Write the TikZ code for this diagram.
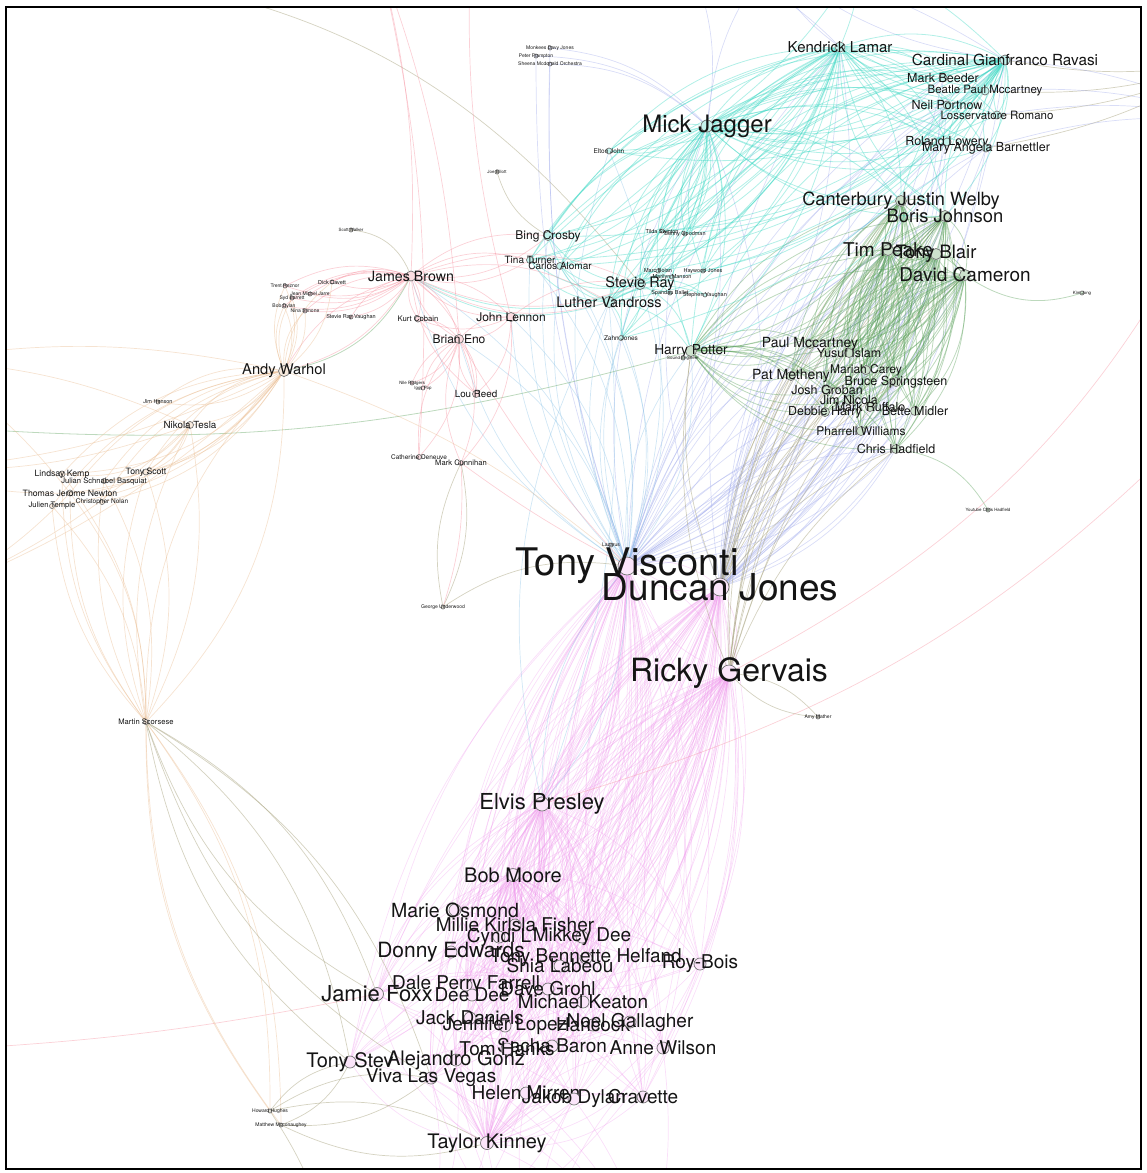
\documentclass[tikz,border=0pt]{standalone}
\usepackage{fontspec}
\setmainfont{TeX Gyre Heros}
\usetikzlibrary{backgrounds}

\definecolor{pinkC}{RGB}{238,150,235}
\definecolor{lavC}{RGB}{160,170,235}
\definecolor{greenC}{RGB}{90,160,90}
\definecolor{cyanC}{RGB}{60,215,195}
\definecolor{rosC}{RGB}{245,140,155}
\definecolor{peachC}{RGB}{232,185,140}
\definecolor{oliveC}{RGB}{170,165,130}
\definecolor{skyC}{RGB}{140,195,230}

\begin{document}
\begin{tikzpicture}[x=1pt, y=-1pt,
  person/.style={circle, draw=black!55, line width=0.7pt, inner sep=0pt, minimum size=#1},
  person/.default=8,
  lbl/.style={font=\fontsize{#1}{#1}\selectfont, text=black!92, inner sep=0pt},
  pinkline/.style={draw=pinkC, draw opacity=0.3, line width=0.7pt},
  lavline/.style={draw=lavC, draw opacity=0.4, line width=0.7pt},
  greenline/.style={draw=greenC, draw opacity=0.4, line width=0.8pt},
  cyanline/.style={draw=cyanC, draw opacity=0.4, line width=0.8pt},
  skyline/.style={draw=skyC, draw opacity=0.4, line width=0.7pt},
  rosline/.style={draw=rosC, draw opacity=0.4, line width=0.7pt},
  peachline/.style={draw=peachC, draw opacity=0.4, line width=0.7pt},
  oliveline/.style={draw=oliveC, draw opacity=0.5, line width=0.7pt}
]
\useasboundingbox (0,0) rectangle (1147,1173);

% hubs in the middle
\node[person=18, fill=pinkC!25, label={[lbl=38]center:Tony Visconti}] (visconti) at (627,566) {};
\node[person=18, fill=pinkC!25, label={[lbl=37]center:Duncan Jones}] (duncan) at (720,587) {};
\node[person=16, fill=pinkC!25, label={[lbl=32]center:Ricky Gervais}] (gervais) at (729,673) {};

% lower cluster
\node[person=14, fill=pinkC!25, label={[lbl=22]center:Elvis Presley}] (elvis) at (542,804) {};
\node[person=13, fill=pinkC!25, label={[lbl=20]center:Bob Moore}] (moore) at (513,875) {};
\node[person=12, fill=pinkC!25, label={[lbl=19.5]center:Marie Osmond}] (osmond) at (455,910) {};
\node[person=12, fill=pinkC!25, label={[lbl=19]center:Millie Kirlsla Fisher}] (fisher) at (515,925) {};
\node[person=12, fill=pinkC!25, label={[lbl=19]center:Cyndi L}] (cyndi) at (499,937) {};
\node[person=12, fill=pinkC!25, label={[lbl=19]center:Mikkey Dee}] (mikkey) at (582,937) {};
\node[person=12, fill=pinkC!25, label={[lbl=21]center:Donny Edwards}] (donny) at (451,952) {};
\node[person=12, fill=pinkC!25, label={[lbl=19]center:Tony Bennette Helfand}] (bennett) at (586,958) {};
\node[person=12, fill=pinkC!25, label={[lbl=19]center:Shia Labeou}] (shia) at (560,966) {};
\node[person=12, fill=pinkC!25, label={[lbl=19]center:Roy-Bois}] (roybois) at (700,964) {};
\node[person=13, fill=pinkC!25, label={[lbl=22]center:Jamie Foxx}] (foxx) at (377,994) {};
\node[person=12, fill=pinkC!25, label={[lbl=19]center:Dale Perry Farrell}] (perry) at (466,985) {};
\node[person=12, fill=pinkC!25, label={[lbl=19]center:Dee Dee}] (deedee) at (472,995) {};
\node[person=12, fill=pinkC!25, label={[lbl=19]center:Dave Grohl}] (grohl) at (548,989) {};
\node[person=12, fill=pinkC!25, label={[lbl=19]center:Michael Keaton}] (keaton) at (583,1002) {};
\node[person=12, fill=pinkC!25, label={[lbl=19]center:Jack Daniels}] (daniels) at (470,1018) {};
\node[person=12, fill=pinkC!25, label={[lbl=19]center:Jennifer Lopez}] (lopez) at (505,1026) {};
\node[person=12, fill=pinkC!25, label={[lbl=19]center:Hancock}] (hancock) at (593,1025) {};
\node[person=12, fill=pinkC!25, label={[lbl=19]center:Noel Gallagher}] (gallagher) at (630,1022) {};
\node[person=12, fill=pinkC!25, label={[lbl=19]center:Sacha Baron}] (sacha) at (552,1046) {};
\node[person=12, fill=pinkC!25, label={[lbl=19]center:Tom Hanks}] (hanks) at (507,1049) {};
\node[person=12, fill=pinkC!25, label={[lbl=19]center:Anne Wilson}] (wilson) at (663,1048) {};
\node[person=12, fill=pinkC!25, label={[lbl=20]center:Tony Stev}] (stev) at (350,1062) {};
\node[person=12, fill=pinkC!25, label={[lbl=20]center:Alejandro Gonz}] (gonz) at (456,1060) {};
\node[person=12, fill=pinkC!25, label={[lbl=19]center:Viva Las Vegas}] (vegas) at (431,1078) {};
\node[person=12, fill=pinkC!25, label={[lbl=19]center:Helen Mirren}] (mirren) at (526,1093) {};
\node[person=12, fill=pinkC!25, label={[lbl=19]center:Jakob Dylan}] (dylan) at (574,1099) {};
\node[person=12, fill=pinkC!25, label={[lbl=19]center:Cravette}] (cravette) at (643,1097) {};
\node[person=13, fill=pinkC!25, label={[lbl=20]center:Taylor Kinney}] (kinney) at (487,1143) {};

% upper right
\node[person=12, fill=cyanC!30, label={[lbl=24]center:Mick Jagger}] (jagger) at (707,126) {};
\node[person=10, fill=cyanC!30, label={[lbl=15]center:Kendrick Lamar}] (kendrick) at (840,47) {};
\node[person=10, fill=cyanC!30, label={[lbl=15.3]center:Cardinal Gianfranco Ravasi}] (cardinal) at (1005,60) {};
\node[person=8, fill=cyanC!30, label={[lbl=12.5]center:Mark Beeder}] (beeder) at (943,78) {};
\node[person=8, fill=cyanC!30, label={[lbl=11.5]center:Beatle Paul Mccartney}] (beatle) at (985,91) {};
\node[person=8, fill=cyanC!30, label={[lbl=12.5]center:Neil Portnow}] (portnow) at (947,105) {};
\node[person=8, fill=cyanC!30, label={[lbl=11.5]center:Losservatore Romano}] (losserv) at (997,115) {};
\node[person=8, fill=cyanC!30, label={[lbl=12.5]center:Roland Lowery}] (lowery) at (947,142) {};
\node[person=8, fill=cyanC!30, label={[lbl=12.5]center:Mary Angela Barnettler}] (barnettler) at (986,148) {};
\node[person=11, fill=greenC!30, label={[lbl=18.2]center:Canterbury Justin Welby}] (welby) at (901,201) {};
\node[person=11, fill=greenC!30, label={[lbl=18.4]center:Boris Johnson}] (boris) at (945,216) {};
\node[person=11, fill=greenC!30, label={[lbl=19]center:Tim Peake}] (peake) at (888,250) {};
\node[person=11, fill=greenC!30, label={[lbl=18.4]center:Tony Blair}] (blair) at (936,254) {};
\node[person=11, fill=greenC!30, label={[lbl=19]center:David Cameron}] (cameron) at (965,275) {};
\node[person=4, fill=greenC!30, label={[lbl=4.4]center:Kim Jong}] (kim) at (1082,293) {};

% green cluster
\node[person=11, fill=greenC!30, label={[lbl=13.7]center:Harry Potter}] (harry) at (691,351) {};
\node[person=9, fill=greenC!30, label={[lbl=14]center:Paul Mccartney}] (paulmc) at (810,344) {};
\node[person=9, fill=greenC!30, label={[lbl=12.5]center:Yusuf Islam}] (yusuf) at (849,353) {};
\node[person=9, fill=greenC!30, label={[lbl=12]center:Mariah Carey}] (mariah) at (866,370) {};
\node[person=9, fill=greenC!30, label={[lbl=14]center:Pat Metheny}] (metheny) at (791,376) {};
\node[person=9, fill=greenC!30, label={[lbl=12.5]center:Bruce Springsteen}] (bruce) at (896,382) {};
\node[person=9, fill=greenC!30, label={[lbl=12.5]center:Josh Groban}] (groban) at (827,390) {};
\node[person=9, fill=greenC!30, label={[lbl=12.5]center:Jim Nicola}] (nicola) at (849,400) {};
\node[person=9, fill=greenC!30, label={[lbl=12.5]center:Mark Ruffalo}] (ruffalo) at (870,407) {};
\node[person=9, fill=greenC!30, label={[lbl=12.5]center:Bette Midler}] (midler) at (915,411) {};
\node[person=9, fill=greenC!30, label={[lbl=12.5]center:Debbie Harry}] (debbie) at (825,412) {};
\node[person=9, fill=greenC!30, label={[lbl=12]center:Pharrell Williams}] (pharrell) at (861,431) {};
\node[person=9, fill=greenC!30, label={[lbl=12.5]center:Chris Hadfield}] (hadfield) at (896,449) {};
\node[person=4, fill=greenC!30, label={[lbl=4.4]center:Youtube Chris Hadfield}] (youtube) at (988,510) {};

% upper middle
\node[person=4, fill=lavC!30, label={[lbl=5]center:Monkees Davy Jones}] (monkees) at (550,48) {};
\node[person=4, fill=lavC!30, label={[lbl=5]center:Peter Frampton}] (frampton) at (536,56) {};
\node[person=4, fill=lavC!30, label={[lbl=5]center:Sheena Mcdonald Orchestra}] (sheena) at (550,64) {};
\node[person=6, fill=cyanC!30, label={[lbl=6.5]center:Elton John}] (elton) at (609,151) {};
\node[person=4, fill=oliveC!30, label={[lbl=4.4]center:Joe Elliott}] (joe) at (497,172) {};
\node[person=9, fill=cyanC!30, label={[lbl=12]center:Bing Crosby}] (bing) at (548,236) {};
\node[person=7, fill=cyanC!30, label={[lbl=10]center:Tina Turner}] (tina) at (530,260) {};
\node[person=7, fill=cyanC!30, label={[lbl=10]center:Carlos Alomar}] (carlos) at (560,266) {};
\node[person=4, fill=cyanC!30, label={[lbl=5.5]center:Tilda Swinton}] (tilda) at (662,231) {};
\node[person=4, fill=cyanC!30, label={[lbl=5.5]center:Benny Goodman}] (goodman) at (685,234) {};
\node[person=4, fill=cyanC!30, label={[lbl=5.5]center:Marc Bolan}] (bolan) at (658,271) {};
\node[person=4, fill=cyanC!30, label={[lbl=5.5]center:Haywood Jones}] (haywood) at (703,271) {};
\node[person=4, fill=cyanC!30, label={[lbl=5.5]center:Marilyn Manson}] (manson) at (672,277) {};
\node[person=4, fill=cyanC!30, label={[lbl=5.5]center:Spandau Ballet}] (spandau) at (670,293) {};
\node[person=4, fill=cyanC!30, label={[lbl=5.5]center:Stephen Vaughan}] (vaughan) at (705,295) {};
\node[person=11, fill=cyanC!30, label={[lbl=14.5]center:Stevie Ray}] (stevie) at (640,284) {};
\node[person=11, fill=cyanC!30, label={[lbl=14.5]center:Luther Vandross}] (luther) at (609,302) {};
\node[person=5, fill=cyanC!30, label={[lbl=6.5]center:Zahn Jones}] (zahn) at (621,338) {};
\node[person=4, fill=greenC!30, label={[lbl=4.4]center:Sound Engineer}] (sound) at (683,358) {};

% upper left
\node[person=4, fill=oliveC!30, label={[lbl=4.4]center:Scott Walker}] (scott) at (351,230) {};
\node[person=10, fill=rosC!30, label={[lbl=14.2]center:James Brown}] (jamesbrown) at (411,276) {};
\node[person=4, fill=rosC!30, label={[lbl=5.5]center:Dick Cavett}] (dick) at (332,282) {};
\node[person=4, fill=rosC!30, label={[lbl=5]center:Trent Reznor}] (trent) at (285,286) {};
\node[person=4, fill=rosC!30, label={[lbl=5]center:Jean Michel Jarre}] (jmm) at (310,294) {};
\node[person=4, fill=rosC!30, label={[lbl=5]center:Syd Barrett}] (syd) at (292,298) {};
\node[person=4, fill=rosC!30, label={[lbl=5]center:Bob Dylan}] (bobdylan) at (284,306) {};
\node[person=4, fill=rosC!30, label={[lbl=5]center:Nina Simone}] (nina) at (305,311) {};
\node[person=4, fill=rosC!30, label={[lbl=5.5]center:Stevie Ray Vaughan}] (srv) at (351,317) {};
\node[person=6, fill=rosC!30, label={[lbl=7.7]center:Kurt Cobain}] (kurt) at (418,319) {};
\node[person=9, fill=rosC!30, label={[lbl=12]center:John Lennon}] (lennon) at (511,317) {};
\node[person=9, fill=rosC!30, label={[lbl=12]center:Brian Eno}] (eno) at (459,339) {};
\node[person=11, fill=peachC!30, label={[lbl=14.7]center:Andy Warhol}] (warhol) at (284,371) {};
\node[person=4, fill=rosC!30, label={[lbl=4.4]center:Nile Rodgers}] (nile) at (412,383) {};
\node[person=4, fill=rosC!30, label={[lbl=4.4]center:Iggy Pop}] (iggy) at (423,388) {};
\node[person=7, fill=rosC!30, label={[lbl=9.8]center:Lou Reed}] (loureed) at (476,394) {};
\node[person=7, fill=peachC!30, label={[lbl=9.8]center:Nikola Tesla}] (tesla) at (190,425) {};
\node[person=4, fill=peachC!30, label={[lbl=5.5]center:Jim Henson}] (jimhenson) at (158,402) {};
\node[person=6, fill=peachC!30, label={[lbl=8.7]center:Lindsay Kemp}] (lindsay) at (62,474) {};
\node[person=6, fill=peachC!30, label={[lbl=8.7]center:Tony Scott}] (tonyscott) at (146,472) {};
\node[person=5, fill=peachC!30, label={[lbl=7.6]center:Julian Schnabel Basquiat}] (julian) at (104,481) {};
\node[person=6, fill=peachC!30, label={[lbl=8.7]center:Thomas Jerome Newton}] (thomas) at (70,493) {};
\node[person=5, fill=peachC!30, label={[lbl=7.6]center:Julien Temple}] (julien) at (52,506) {};
\node[person=5, fill=peachC!30, label={[lbl=6.5]center:Christopher Nolan}] (nolan) at (102,502) {};
\node[person=5, fill=rosC!30, label={[lbl=6.5]center:Catherine Deneuve}] (catherine) at (419,457) {};
\node[person=5, fill=rosC!30, label={[lbl=7.6]center:Mark Cunnihan}] (markc) at (461,463) {};
\node[person=4, fill=oliveC!30, label={[lbl=5]center:George Underwood}] (george) at (443,607) {};
\node[person=4, fill=skyC!30, label={[lbl=5]center:Lazarus}] (lazarus) at (611,545) {};
\node[person=4, fill=oliveC!30, label={[lbl=5]center:Amy Mather}] (amy) at (818,717) {};
\node[person=5, fill=peachC!30, label={[lbl=7.6]center:Martin Scorsese}] (scorsese) at (146,722) {};
\node[person=4, fill=oliveC!30, label={[lbl=5]center:Howard Hughes}] (howard) at (270,1111) {};
\node[person=4, fill=oliveC!30, label={[lbl=5]center:Matthew Mcconaughey}] (matthew) at (281,1125) {};

% ends of edges that leave the frame
\coordinate (offA) at (90,-30);
\coordinate (offB) at (-80,425);
\coordinate (offC) at (1230,160);
\coordinate (offD) at (1230,390);
\coordinate (offE) at (-60,1050);
\coordinate (topA) at (380,-40);
\coordinate (topB) at (470,-40);
\coordinate (topC) at (690,-40);
\coordinate (topD) at (770,-40);
\coordinate (topE) at (860,-40);
\coordinate (leftA) at (-80,360);
\coordinate (leftB) at (-80,470);
\coordinate (leftC) at (-80,600);
\coordinate (botA) at (420,1260);
\coordinate (botB) at (540,1260);
\coordinate (botC) at (650,1260);
\coordinate (botD) at (330,1250);
\coordinate (rightA) at (1230,60);
\coordinate (rightB) at (1230,120);

\begin{pgfonlayer}{background}
\begin{scope}
\clip (6,7) rectangle (1141,1169);

% pink edges of the lower cluster
\foreach \a in {visconti,duncan,gervais}
  \foreach \b in {elvis,moore,osmond,fisher,cyndi,mikkey,donny,bennett,shia,roybois,foxx,perry,deedee,grohl,keaton,daniels,lopez,hancock,gallagher,sacha,hanks,wilson,stev,gonz,vegas,mirren,dylan,cravette,kinney}
  {\draw[pinkline] (\a) to[bend left=18] (\b);
   \draw[pinkline] (\b) to[bend left=18] (\a);}
\foreach \a in {elvis,moore,kinney}
  \foreach \b in {osmond,fisher,cyndi,mikkey,donny,bennett,shia,roybois,foxx,perry,deedee,grohl,keaton,daniels,lopez,hancock,gallagher,sacha,hanks,wilson,stev,gonz,vegas,mirren,dylan,cravette}
  {\draw[pinkline] (\a) to[bend left=24] (\b);
   \draw[pinkline] (\b) to[bend left=24] (\a);}
\foreach \a/\b in {osmond/wilson,donny/roybois,foxx/gallagher,foxx/keaton,fisher/dylan,mikkey/vegas,bennett/stev,grohl/gonz,daniels/cravette,hanks/roybois,visconti/duncan,duncan/gervais,visconti/gervais}
  {\draw[pinkline] (\a) to[bend left=24] (\b);
   \draw[pinkline] (\b) to[bend left=24] (\a);}
\foreach \a in {kinney,dylan,vegas,mirren,gonz,wilson}
  {\draw[pinkline] (\a) to[bend left=15] (botA);
   \draw[pinkline] (botB) to[bend left=15] (\a);
   \draw[pinkline] (\a) to[bend left=10] (botC);}

% lavender edges towards the top right
\foreach \a in {visconti,duncan}
  \foreach \b in {jagger,kendrick,cardinal,beeder,portnow,lowery,barnettler,welby,boris,peake,blair,cameron,paulmc,bruce,midler,hadfield,pharrell,mariah}
  {\draw[lavline] (\a) to[bend left=20] (\b);
   \draw[lavline] (\b) to[bend left=20] (\a);}
\foreach \b in {jagger,kendrick,cardinal}
  {\draw[lavline] (topC) to[bend left=15] (\b);
   \draw[lavline] (\b) to[bend left=15] (topD);
   \draw[cyanline] (topE) to[bend left=10] (\b);}
\foreach \b in {monkees,frampton,sheena}
  {\draw[lavline] (\b) to[bend left=20] (jagger);
   \draw[lavline] (visconti) to[bend left=10] (\b);}

% blue edges from the hubs to the upper middle
\foreach \a in {visconti}
  \foreach \b in {luther,stevie,bing,eno,lennon,jamesbrown,elvis,tina,carlos,zahn,lazarus,elton,harry}
  {\draw[skyline] (\a) to[bend left=20] (\b);
   \draw[skyline] (\b) to[bend left=20] (\a);}
\draw[skyline] (elvis) to[bend left=20] (luther);
\draw[skyline] (luther) to[bend left=12] (elvis);

% grey edges between the hubs and the green cluster
\foreach \a in {gervais,duncan}
  \foreach \b in {peake,blair,cameron,welby,boris,harry,paulmc,metheny,debbie,hadfield,bruce,groban}
  {\draw[oliveline] (\a) to[bend left=14] (\b);}
\draw[oliveline] (gervais) to[bend left=20] (amy);
\draw[oliveline] (amy) to[bend left=20] (gervais);

% green cluster
\foreach \a in {peake,blair,cameron,welby,boris}
  \foreach \b in {harry,paulmc,yusuf,mariah,metheny,bruce,groban,nicola,ruffalo,midler,debbie,pharrell,hadfield}
  {\draw[greenline] (\a) to[bend left=24] (\b);
   \draw[greenline] (\b) to[bend left=24] (\a);}
\foreach \a/\b in {peake/blair,peake/cameron,blair/cameron,welby/boris,boris/cameron,welby/peake,harry/paulmc,harry/metheny,harry/debbie,harry/groban,harry/pharrell,harry/hadfield,harry/sound,harry/nicola}
  {\draw[greenline] (\a) to[bend left=28] (\b);
   \draw[greenline] (\b) to[bend left=28] (\a);}
\draw[greenline] (cameron) to[bend right=25] (kim);
\draw[greenline] (hadfield) to[bend left=25] (youtube);
\draw[greenline] (offB) to[bend right=10] (harry);
\draw[oliveline] (offA) to[bend left=22] (stevie);

% cyan edges round the upper hubs
\foreach \a in {jagger,kendrick,cardinal}
  \foreach \b in {bing,tina,carlos,stevie,luther,elton,zahn,harry,beeder,beatle,portnow,losserv,lowery,barnettler,tilda,goodman,bolan,haywood,welby,boris}
  {\draw[cyanline] (\a) to[bend left=22] (\b);
   \draw[cyanline] (\b) to[bend left=22] (\a);}
\foreach \a/\b in {jagger/kendrick,jagger/cardinal,kendrick/cardinal}
  {\draw[cyanline] (\a) to[bend left=22] (\b);
   \draw[cyanline] (\b) to[bend left=22] (\a);}
\foreach \a in {stevie,luther}
  \foreach \b in {bing,tina,carlos,zahn,tilda,bolan,spandau,vaughan,manson,harry,jamesbrown}
  {\draw[cyanline] (\a) to[bend left=24] (\b);}
\foreach \b in {cardinal,beatle,losserv,barnettler}
  {\draw[oliveline] (rightA) to[bend left=10] (\b);
   \draw[lavline] (\b) to[bend left=10] (rightB);}
\draw[oliveline] (joe) to[bend right=20] (bing);

% rose edges round James Brown
\foreach \b in {trent,dick,jmm,syd,bobdylan,nina,srv,kurt,lennon,eno,warhol,loureed,bing,tina,luther,stevie}
  {\draw[rosline] (jamesbrown) to[bend left=22] (\b);
   \draw[rosline] (\b) to[bend left=22] (jamesbrown);}
\foreach \b in {lennon,kurt,loureed,markc,catherine,nile,iggy}
  {\draw[rosline] (eno) to[bend left=22] (\b);
   \draw[rosline] (\b) to[bend left=22] (eno);}
\foreach \b in {kurt,loureed,markc,stevie}
  {\draw[rosline] (lennon) to[bend left=22] (\b);}
\foreach \b in {jamesbrown,eno,catherine}
  {\draw[rosline] (topA) to[bend left=8] (\b);}
\draw[rosline] (lennon) to[bend left=8] (topB);
\draw[rosline] (markc) to[bend right=4] (visconti);
\draw[rosline] (eno) to[bend right=6] (visconti);
\draw[oliveline] (scott) to[bend left=30] (jamesbrown);
\draw[greenline] (jamesbrown) to[bend left=25] (warhol);
\draw[rosline] (offC) to[bend left=18] (gervais);
\draw[rosline] (offD) to[bend left=15] (elvis);
\draw[rosline] (offE) to[bend right=4] (foxx);

% peach edges on the left
\foreach \b in {tesla,tonyscott,lindsay,julian,thomas,julien,nolan,jimhenson,scorsese,trent,syd,bobdylan,nina,dick}
  {\draw[peachline] (warhol) to[bend left=22] (\b);
   \draw[peachline] (\b) to[bend left=22] (warhol);}
\foreach \b in {lindsay,thomas,tonyscott,julien,howard,matthew,tesla,julian}
  {\draw[peachline] (scorsese) to[bend left=18] (\b);
   \draw[peachline] (\b) to[bend left=18] (scorsese);}
\foreach \b in {lindsay,thomas,julian,tonyscott}
  {\draw[peachline] (tesla) to[bend left=28] (\b);}
\foreach \b in {warhol,tesla,thomas}
  {\draw[peachline] (leftA) to[bend left=10] (\b);
   \draw[peachline] (\b) to[bend left=10] (leftB);
   \draw[peachline] (leftC) to[bend right=10] (\b);}
\draw[peachline] (warhol) to[bend left=10] (visconti);

% grey edges low on the left
\foreach \b in {stev,foxx,vegas}
  {\draw[oliveline] (scorsese) to[bend left=20] (\b);
   \draw[oliveline] (\b) to[bend left=20] (scorsese);}
\foreach \b in {stev,kinney,vegas}
  {\draw[oliveline] (howard) to[bend left=20] (\b);
   \draw[oliveline] (\b) to[bend left=20] (matthew);}
\draw[oliveline] (howard) to[bend left=10] (botD);
\draw[oliveline] (markc) to[bend left=18] (george);
\draw[oliveline] (george) to[bend left=18] (markc);
\draw[rosline] (markc) to[bend left=10] (george);
\draw[oliveline] (george) to[bend left=20] (visconti);
\end{scope}
\end{pgfonlayer}

% frame
\draw[line width=2.2pt] (6,7) rectangle (1141,1169);
\end{tikzpicture}
\end{document}
